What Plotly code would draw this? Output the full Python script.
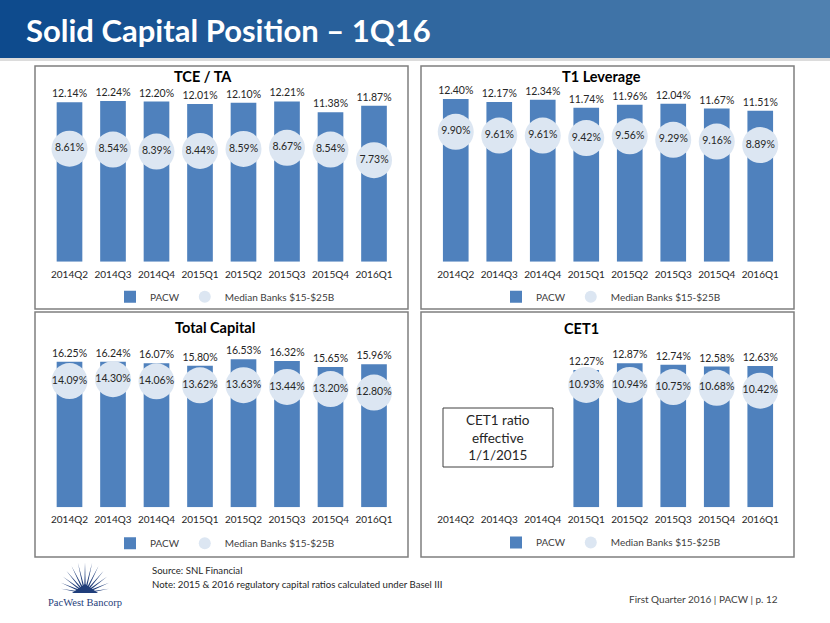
import plotly.graph_objects as go
import math

# ---------------- data ----------------
quarters = ["2014Q2", "2014Q3", "2014Q4", "2015Q1", "2015Q2", "2015Q3", "2015Q4", "2016Q1"]
tce_pacw = [12.14, 12.24, 12.20, 12.01, 12.10, 12.21, 11.38, 11.87]
tce_median = [8.61, 8.54, 8.39, 8.44, 8.59, 8.67, 8.54, 7.73]
t1_pacw = [12.40, 12.17, 12.34, 11.74, 11.96, 12.04, 11.67, 11.51]
t1_median = [9.90, 9.61, 9.61, 9.42, 9.56, 9.29, 9.16, 8.89]
tc_pacw = [16.25, 16.24, 16.07, 15.80, 16.53, 16.32, 15.65, 15.96]
tc_median = [14.09, 14.30, 14.06, 13.62, 13.63, 13.44, 13.20, 12.80]
cet1_pacw = [None, None, None, 12.27, 12.87, 12.74, 12.58, 12.63]
cet1_median = [None, None, None, 10.93, 10.94, 10.75, 10.68, 10.42]

panel_titles = ["TCE / TA", "T1 Leverage", "Total Capital", "CET1"]
series_names = ["PACW", "Median Banks $15-$25B"]

# ---------------- styling ----------------
W, H = 830, 623
FONT = "Lato"
BAR_COLOR = "#4f81bd"
CIRCLE_COLOR = "#dce6f2"
TEXT_DARK = "#262626"
TEXT_GRAY = "#404040"


def fx(px):
    return px / W


def fy(py):
    return 1 - py / H


# (pacw, median, x-domain px, baseline px, top px, ymax, legend center x, legend y, title x, title y, panel box)
panels = [
    (tce_pacw, tce_median, (47.75, 395.75), 261.7, 80, (261.7 - 80) / 13.13, 225, 296.7, 202.5, 76.5, (35, 66, 408, 309)),
    (t1_pacw, t1_median, (434.0, 782.0), 261.7, 80, (261.7 - 80) / 13.12, 611, 296.7, 601.5, 76.5, (421, 66, 794, 309)),
    (tc_pacw, tc_median, (47.75, 395.75), 507.3, 330, (507.3 - 330) / 8.96, 225, 543.3, 215, 327.5, (35, 312, 408, 557)),
    (cet1_pacw, cet1_median, (434.0, 782.0), 507.3, 330, (507.3 - 330) / 11.19, 611, 542.5, 581.5, 328.5, (421, 312, 794, 557)),
]

fig = go.Figure()
layout = dict(
    width=W, height=H,
    margin=dict(l=0, r=0, t=0, b=0),
    paper_bgcolor="white", plot_bgcolor="rgba(0,0,0,0)",
    bargap=0.41,
    font=dict(family=FONT, color=TEXT_GRAY, size=10),
    showlegend=True,
)
shapes = []
annotations = []

# header gradient band
n_strips = 83
c0 = (13, 74, 141)
c1 = (80, 129, 176)
for i in range(n_strips):
    t = i / (n_strips - 1)
    col = tuple(int(round(c0[k] + (c1[k] - c0[k]) * t)) for k in range(3))
    shapes.append(dict(type="rect", xref="paper", yref="paper",
                       x0=fx(i * W / n_strips), x1=fx((i + 1) * W / n_strips + 0.6),
                       y0=fy(58), y1=fy(0), line=dict(width=0),
                       fillcolor="rgb(%d,%d,%d)" % col, layer="below"))
shapes.append(dict(type="rect", xref="paper", yref="paper", x0=0, x1=1, y0=fy(61), y1=fy(58),
                   line=dict(width=0), fillcolor="#dcdcdc", layer="below"))

annotations.append(dict(text="<b>Solid Capital Position – 1Q16</b>", xref="paper", yref="paper",
                        x=fx(24), y=fy(30), xanchor="left", yanchor="middle", showarrow=False,
                        font=dict(family=FONT, size=31, color="white")))

for i, (pacw, med, xd, base, top, ymax, lgx, lgy, tx, ty, box) in enumerate(panels):
    n = i + 1
    xa = "x" if n == 1 else "x%d" % n
    ya = "y" if n == 1 else "y%d" % n
    lg = "legend" if n == 1 else "legend%d" % n
    layout["xaxis" if n == 1 else "xaxis%d" % n] = dict(
        domain=[fx(xd[0]), fx(xd[1])], anchor=ya, type="category",
        categoryorder="array", categoryarray=quarters, range=[-0.5, 7.5],
        showgrid=False, zeroline=False, showline=False,
        ticks="outside", ticklen=3, tickcolor="rgba(0,0,0,0)",
        tickfont=dict(family=FONT, size=10, color=TEXT_DARK), fixedrange=True)
    layout["yaxis" if n == 1 else "yaxis%d" % n] = dict(
        domain=[fy(base), fy(top)], anchor=xa, range=[0, ymax],
        visible=False, showgrid=False, zeroline=False, fixedrange=True)
    layout[lg] = dict(orientation="h", x=fx(lgx), y=fy(lgy), xanchor="center", yanchor="middle",
                      bgcolor="rgba(0,0,0,0)", font=dict(family=FONT, size=10, color=TEXT_GRAY),
                      itemsizing="constant", itemwidth=30, traceorder="normal",
                      itemclick=False, itemdoubleclick=False)

    fig.add_trace(go.Bar(
        x=quarters, y=pacw, name=series_names[0], xaxis=xa, yaxis=ya, legend=lg,
        marker=dict(color=BAR_COLOR, line=dict(width=0)),
        texttemplate="%{y:.2f}%", textposition="outside", cliponaxis=False, constraintext="none",
        textfont=dict(family=FONT, size=10.5, color=TEXT_DARK), hoverinfo="skip"))
    fig.add_trace(go.Scatter(
        x=quarters, y=med, name=series_names[1], xaxis=xa, yaxis=ya, legend=lg,
        mode="markers+text", marker=dict(color=CIRCLE_COLOR, size=36, line=dict(width=0)),
        texttemplate="%{y:.2f}%", textposition="middle center", cliponaxis=False,
        textfont=dict(family=FONT, size=10.5, color=TEXT_DARK), hoverinfo="skip"))

    # panel frame
    shapes.append(dict(type="rect", xref="paper", yref="paper",
                       x0=fx(box[0]), x1=fx(box[2]), y0=fy(box[3]), y1=fy(box[1]),
                       line=dict(color="#7f7f7f", width=1.5), fillcolor="rgba(0,0,0,0)", layer="below"))
    annotations.append(dict(text="<b>%s</b>" % panel_titles[i], xref="paper", yref="paper",
                            x=fx(tx), y=fy(ty), xanchor="center", yanchor="middle", showarrow=False,
                            font=dict(family=FONT, size=14.5, color="black")))

# CET1 note box
shapes.append(dict(type="rect", xref="paper", yref="paper", x0=fx(443), x1=fx(553), y0=fy(467), y1=fy(408),
                   line=dict(color="#404040", width=1), fillcolor="white"))
annotations.append(dict(text="CET1 ratio<br>effective<br>1/1/2015", xref="paper", yref="paper",
                        x=fx(498), y=fy(437.5), xanchor="center", yanchor="middle", showarrow=False,
                        align="center", font=dict(family=FONT, size=13.5, color=TEXT_DARK)))

# footer texts
annotations.append(dict(text="Source: SNL Financial", xref="paper", yref="paper", x=fx(150), y=fy(570),
                        xanchor="left", yanchor="middle", showarrow=False,
                        font=dict(family=FONT, size=9.6, color=TEXT_DARK)))
annotations.append(dict(text="Note: 2015 & 2016 regulatory capital ratios calculated under Basel III",
                        xref="paper", yref="paper", x=fx(150), y=fy(584), xanchor="left", yanchor="middle",
                        showarrow=False, font=dict(family=FONT, size=9.6, color=TEXT_DARK)))
annotations.append(dict(text="First Quarter 2016 | PACW | p. 12", xref="paper", yref="paper", x=fx(780), y=fy(599),
                        xanchor="right", yanchor="middle", showarrow=False,
                        font=dict(family=FONT, size=10, color=TEXT_GRAY)))

# logo: starburst + name
cx, cy = 85, 593
navy = "#1f3d7a"
n_rays = 13
for k in range(n_rays):
    ang = math.radians(10 + k * (160 / (n_rays - 1)))
    length = 23 + 8 * math.sin(ang)
    half = math.radians(8.5)
    r0 = 5
    bx1 = cx + r0 * math.cos(ang - half)
    by1 = cy - r0 * math.sin(ang - half)
    bx2 = cx + r0 * math.cos(ang + half)
    by2 = cy - r0 * math.sin(ang + half)
    tx_ = cx + length * math.cos(ang)
    ty_ = cy - length * math.sin(ang)
    path = "M %f %f L %f %f L %f %f Z" % (fx(bx1), fy(by1), fx(tx_), fy(ty_), fx(bx2), fy(by2))
    shapes.append(dict(type="path", xref="paper", yref="paper", path=path,
                       fillcolor=navy, line=dict(width=0)))
shapes.append(dict(type="path", xref="paper", yref="paper",
                   path="M %f %f L %f %f L %f %f Z" % (fx(cx - 13), fy(cy), fx(cx + 13), fy(cy), fx(cx), fy(cy - 9)),
                   fillcolor=navy, line=dict(width=0)))
annotations.append(dict(text="PacWest Bancorp", xref="paper", yref="paper", x=fx(85), y=fy(602),
                        xanchor="center", yanchor="middle", showarrow=False,
                        font=dict(family="Liberation Serif", size=10.5, color=navy)))

layout["shapes"] = shapes
layout["annotations"] = annotations
fig.update_layout(**layout)

fig.write_html("out.html", config={"displayModeBar": False},
               post_script="document.body.style.margin='0px';document.body.style.padding='0px';")
